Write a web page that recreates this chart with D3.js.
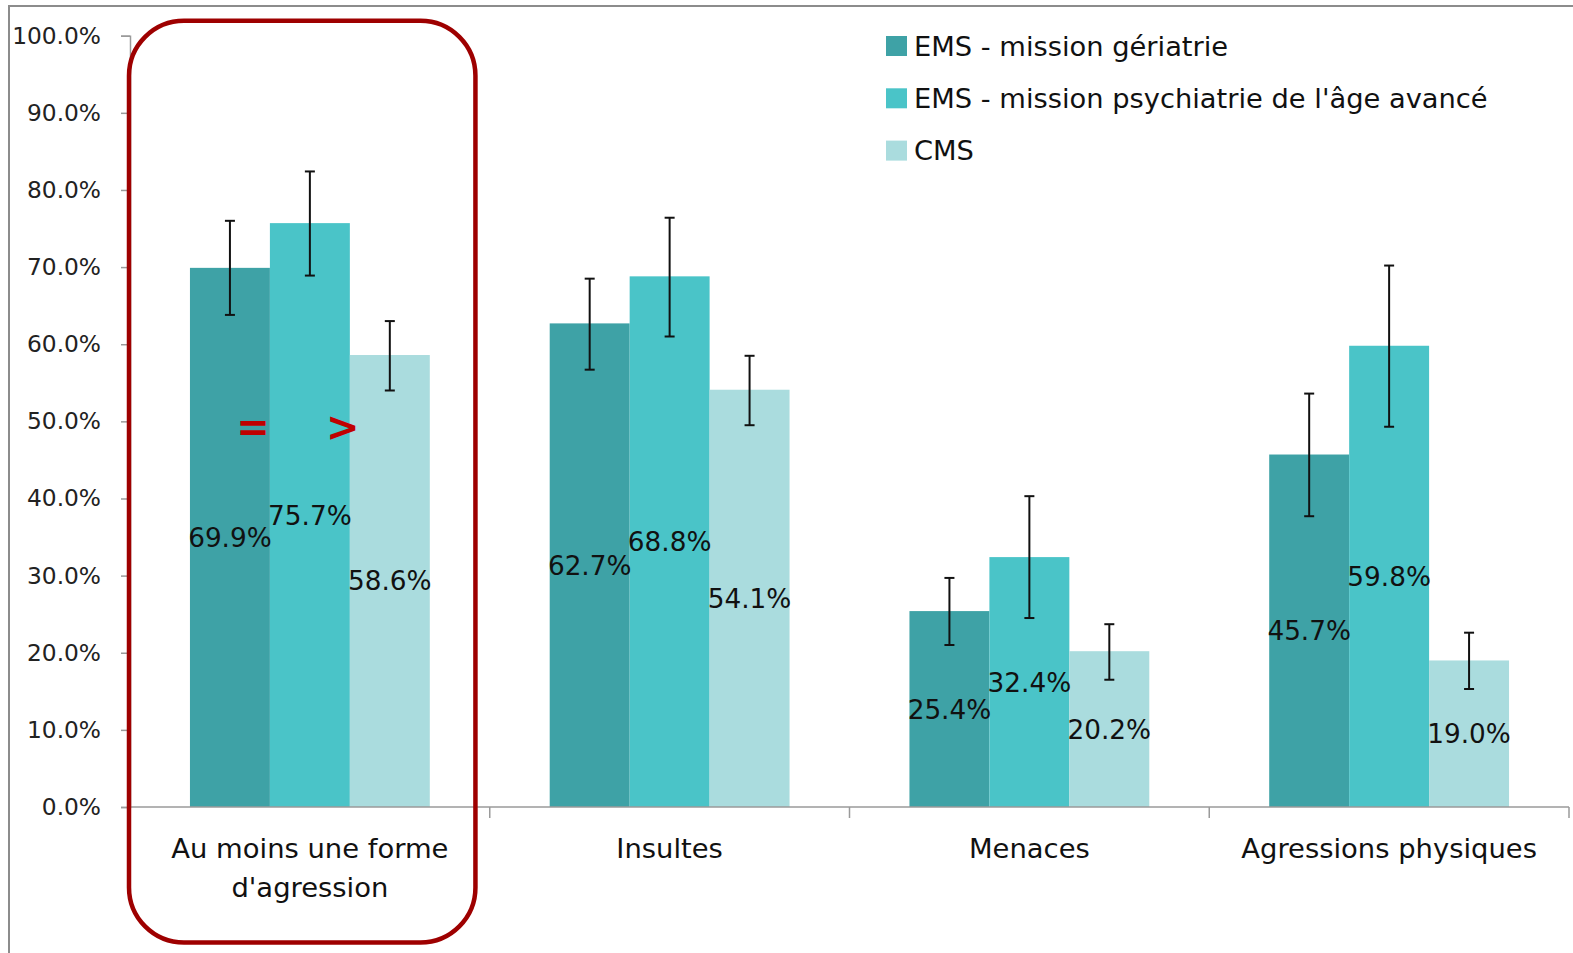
<!DOCTYPE html>
<html>
<head>
<meta charset="utf-8">
<script src="https://cdn.jsdelivr.net/npm/d3@7"></script>
<style>
  html, body { margin: 0; padding: 0; background: #fff; }
  svg { display: block; font-family: "DejaVu Sans", sans-serif; }
</style>
</head>
<body>
<svg id="chart" width="1573" height="953"></svg>
<script>
// ---- data ----
const categories = ["Au moins une forme\nd'agression", "Insultes", "Menaces", "Agressions physiques"];
const seriesNames = ["EMS - mission gériatrie", "EMS - mission psychiatrie de l'âge avancé", "CMS"];
const valGeriatrie = [69.9, 62.7, 25.4, 45.7];
const valPsy = [75.7, 68.8, 32.4, 59.8];
const valCMS = [58.6, 54.1, 20.2, 19.0];
const lowGeriatrie = [63.8, 56.7, 21.0, 37.7];
const highGeriatrie = [76.0, 68.5, 29.7, 53.6];
const lowPsy = [68.9, 61.0, 24.5, 49.3];
const highPsy = [82.4, 76.4, 40.3, 70.2];
const lowCMS = [54.0, 49.5, 16.5, 15.3];
const highCMS = [63.0, 58.5, 23.7, 22.6];
const yTicks = [0, 10, 20, 30, 40, 50, 60, 70, 80, 90, 100];
const comparators = ["=", ">"];
const colors = ["#3ea2a6", "#4ac4c8", "#aadcde"];

const seriesValues = [valGeriatrie, valPsy, valCMS];
const seriesLow = [lowGeriatrie, lowPsy, lowCMS];
const seriesHigh = [highGeriatrie, highPsy, highCMS];

const rows = [];
categories.forEach((c, ci) => {
  seriesNames.forEach((s, si) => {
    rows.push({ cat: c, ci, series: s, si, value: seriesValues[si][ci],
      low: seriesLow[si][ci], high: seriesHigh[si][ci] });
  });
});

// ---- layout ----
const svg = d3.select("#chart");
const W = 1573, H = 953;
const plot = { left: 130, right: 1569, top: 35.7, bottom: 807 };

const x0 = d3.scaleBand().domain(categories).range([plot.left, plot.right]).padding(0);
const bw = x0.bandwidth();
const x1 = d3.scaleBand().domain(seriesNames).range([bw / 6, bw * 5 / 6]).padding(0);
const y = d3.scaleLinear().domain([0, 100]).range([plot.bottom, plot.top]);

// outer frame
svg.append("rect").attr("x", 0).attr("y", 0).attr("width", W).attr("height", H).attr("fill", "#fff");
svg.append("path").attr("d", `M9,${H} L9,6 L${W},6`).attr("fill", "none")
  .attr("stroke", "#8c8c8c").attr("stroke-width", 2);

// bars
const g = svg.append("g");
g.selectAll("rect.bar").data(rows).join("rect")
  .attr("class", "bar")
  .attr("x", d => x0(d.cat) + x1(d.series))
  .attr("width", x1.bandwidth())
  .attr("y", d => y(d.value))
  .attr("height", d => y(0) - y(d.value))
  .attr("fill", d => colors[d.si]);

// error bars
const eb = g.selectAll("g.err").data(rows).join("g").attr("class", "err")
  .attr("stroke", "#111").attr("stroke-width", 2);
eb.append("line")
  .attr("x1", d => x0(d.cat) + x1(d.series) + x1.bandwidth() / 2)
  .attr("x2", d => x0(d.cat) + x1(d.series) + x1.bandwidth() / 2)
  .attr("y1", d => y(d.low)).attr("y2", d => y(d.high));
["low", "high"].forEach(k => {
  eb.append("line")
    .attr("x1", d => x0(d.cat) + x1(d.series) + x1.bandwidth() / 2 - 5)
    .attr("x2", d => x0(d.cat) + x1(d.series) + x1.bandwidth() / 2 + 5)
    .attr("y1", d => y(d[k])).attr("y2", d => y(d[k]));
});

// data labels (centered in bar)
g.selectAll("text.lbl").data(rows).join("text")
  .attr("class", "lbl")
  .attr("x", d => x0(d.cat) + x1(d.series) + x1.bandwidth() / 2)
  .attr("y", d => y(d.value / 2))
  .attr("dy", "0.36em")
  .attr("text-anchor", "middle")
  .attr("font-size", 26.3)
  .attr("fill", "#111")
  .text(d => d.value.toFixed(1) + "%");

// y axis
const yAxis = d3.axisLeft(y).tickValues(yTicks).tickFormat(d => d.toFixed(1) + "%").tickSize(9).tickPadding(20);
const ya = svg.append("g").attr("transform", `translate(${plot.left},0)`).call(yAxis);
ya.select(".domain").attr("stroke", "#9a9a9a").attr("stroke-width", 1.5);
ya.selectAll(".tick line").attr("stroke", "#9a9a9a").attr("stroke-width", 1.5);
ya.selectAll(".tick text").attr("font-size", 23.3).attr("fill", "#222")
  .attr("font-family", "DejaVu Sans, sans-serif").attr("x", -29);

// x axis
const xa = svg.append("g").attr("transform", `translate(0,${plot.bottom})`);
xa.append("line").attr("x1", plot.left).attr("x2", plot.right).attr("y1", 0).attr("y2", 0)
  .attr("stroke", "#9a9a9a").attr("stroke-width", 1.5);
const bounds = categories.map(c => x0(c)).concat([x0(categories[categories.length - 1]) + bw]);
xa.selectAll("line.tk").data(bounds).join("line").attr("class", "tk")
  .attr("x1", d => d).attr("x2", d => d).attr("y1", 0).attr("y2", 11)
  .attr("stroke", "#9a9a9a").attr("stroke-width", 1.5);
const cl = xa.selectAll("text.cat").data(categories).join("text").attr("class", "cat")
  .attr("text-anchor", "middle").attr("font-size", 27.4).attr("fill", "#111");
cl.each(function (c) {
  const t = d3.select(this);
  c.split("\n").forEach((line, i) => {
    t.append("tspan").attr("x", x0(c) + bw / 2).attr("y", 51 + i * 38.6).text(line);
  });
});

// legend
const lg = svg.append("g").attr("transform", "translate(886,46)");
const li = lg.selectAll("g").data(seriesNames).join("g")
  .attr("transform", (d, i) => `translate(0,${i * 52.3})`);
li.append("rect").attr("x", 0).attr("y", -10).attr("width", 21).attr("height", 20)
  .attr("fill", (d, i) => colors[i]);
li.append("text").attr("x", 28).attr("y", 0).attr("dy", "0.36em")
  .attr("font-size", 27.3).attr("fill", "#111").text(d => d);

// annotation: rounded rectangle around first category
const c0 = x0(categories[0]);
svg.append("rect")
  .attr("x", c0 - 1).attr("y", y(100) - 15)
  .attr("width", bw * 0.963).attr("height", 942.5 - (y(100) - 15))
  .attr("rx", 55).attr("ry", 55)
  .attr("fill", "none").attr("stroke", "#9e0000").attr("stroke-width", 4.5);

// comparators between bars of first category
const compX = [
  c0 + x1(seriesNames[1]) - 17,
  c0 + x1(seriesNames[2]) - 7
];
svg.selectAll("text.cmp").data(comparators).join("text").attr("class", "cmp")
  .attr("x", (d, i) => compX[i]).attr("y", y(49.3))
  .attr("dy", "0.36em")
  .attr("text-anchor", "middle").attr("font-size", 40).attr("font-weight", "bold")
  .attr("fill", "#c00000").text(d => d);
</script>
</body>
</html>
